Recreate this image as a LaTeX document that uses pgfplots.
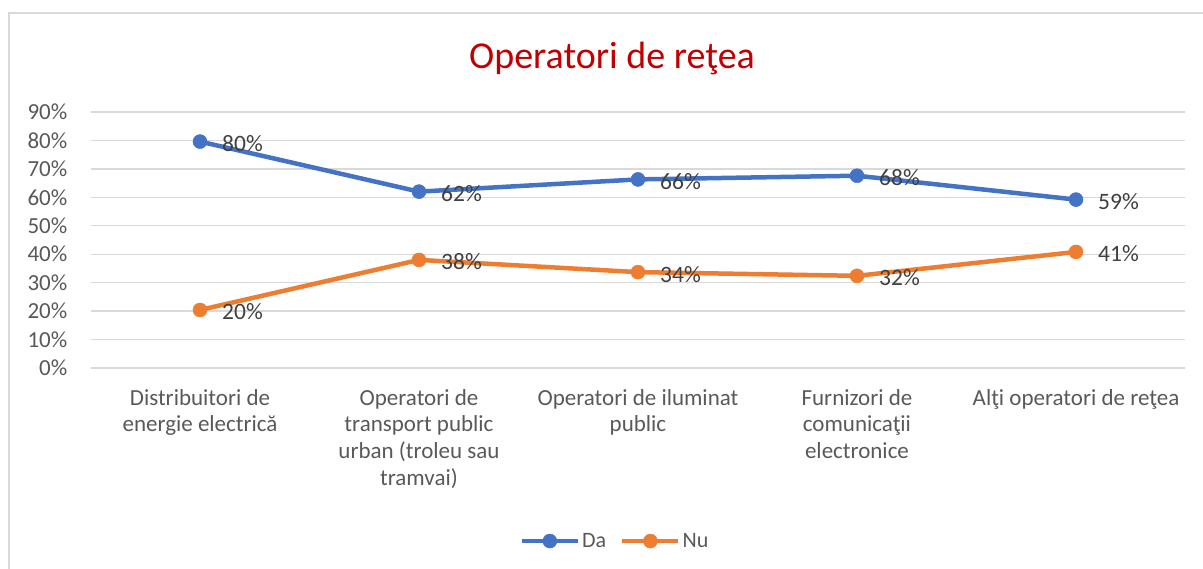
\documentclass[border=0pt]{standalone}
\usepackage{fontspec}
\setmainfont{Carlito}
\usepackage{pgfplots}
\pgfplotsset{compat=1.18}
\definecolor{cblue}{HTML}{4472C4}
\definecolor{corange}{HTML}{ED7D31}
\definecolor{ctitle}{HTML}{C00000}
\definecolor{cgrid}{HTML}{D9D9D9}
\definecolor{ctick}{HTML}{595959}
\definecolor{clabel}{HTML}{404040}
\begin{document}
\begin{tikzpicture}
\path[use as bounding box] (0pt,0pt) rectangle (1203pt,569pt);
\draw[cgrid, line width=1.5pt] (9pt,0pt) -- (9pt,556pt) -- (1203pt,556pt);
\node[font=\fontsize{38}{46}\selectfont, text=ctitle, anchor=base] at (612pt,500pt) {Operatori de reţea};
\begin{axis}[
  at={(90.5pt,201pt)}, anchor=south west,
  scale only axis, width=1095pt, height=256pt,
  xmin=-0.5, xmax=4.5, ymin=0, ymax=90,
  clip=false,
  xtick={0,1,2,3,4},
  xticklabels={{Distribuitori de\\energie electrică},{Operatori de\\transport public\\urban (troleu sau\\tramvai)},{Operatori de iluminat\\public},{Furnizori de\\comunicaţii\\electronice},{Alţi operatori de reţea}},
  ytick={0,10,20,30,40,50,60,70,80,90},
  yticklabels={0\%,10\%,20\%,30\%,40\%,50\%,60\%,70\%,80\%,90\%},
  axis line style={draw=none},
  major tick style={draw=none},
  ymajorgrids, grid style={cgrid, line width=1.3pt},
  tick label style={font=\fontsize{23}{26.7}\selectfont, text=ctick},
  yticklabel style={anchor=east, inner sep=0pt, xshift=-23pt},
  xticklabel style={align=center, anchor=north, inner sep=0pt, yshift=-21pt},
  legend style={at={(0.479,-0.676)}, anchor=center, draw=none, fill=none,
    font=\fontsize{22}{26}\selectfont, text=ctick, nodes={inner sep=2pt},
    /tikz/every even column/.append style={column sep=12pt}},
  legend columns=2,
  legend image code/.code={\draw[mark repeat=2,mark phase=2] plot coordinates {(0pt,0pt)(28pt,0pt)(56pt,0pt)};},
  every node near coord/.append style={anchor=west, xshift=22pt, yshift=-2pt, inner sep=0pt, font=\fontsize{23.5}{26}\selectfont, text=clabel},
]
\addplot[cblue, line width=4.5pt, mark=*, mark size=7pt, mark options={fill=cblue, draw=cblue, line width=0.5pt},
  nodes near coords={\pgfplotspointmeta\%}, point meta=explicit symbolic]
  table[meta=lab] {
x y lab
0 79.6 80
1 62.0 62
2 66.3 66
3 67.6 68
4 59.2 59
};
\addlegendentry{Da}
\addplot[corange, line width=4.5pt, mark=*, mark size=7pt, mark options={fill=corange, draw=corange, line width=0.5pt},
  nodes near coords={\pgfplotspointmeta\%}, point meta=explicit symbolic]
  table[meta=lab] {
x y lab
0 20.4 20
1 38.0 38
2 33.7 34
3 32.4 32
4 40.8 41
};
\addlegendentry{Nu}
\end{axis}
\end{tikzpicture}
\end{document}
